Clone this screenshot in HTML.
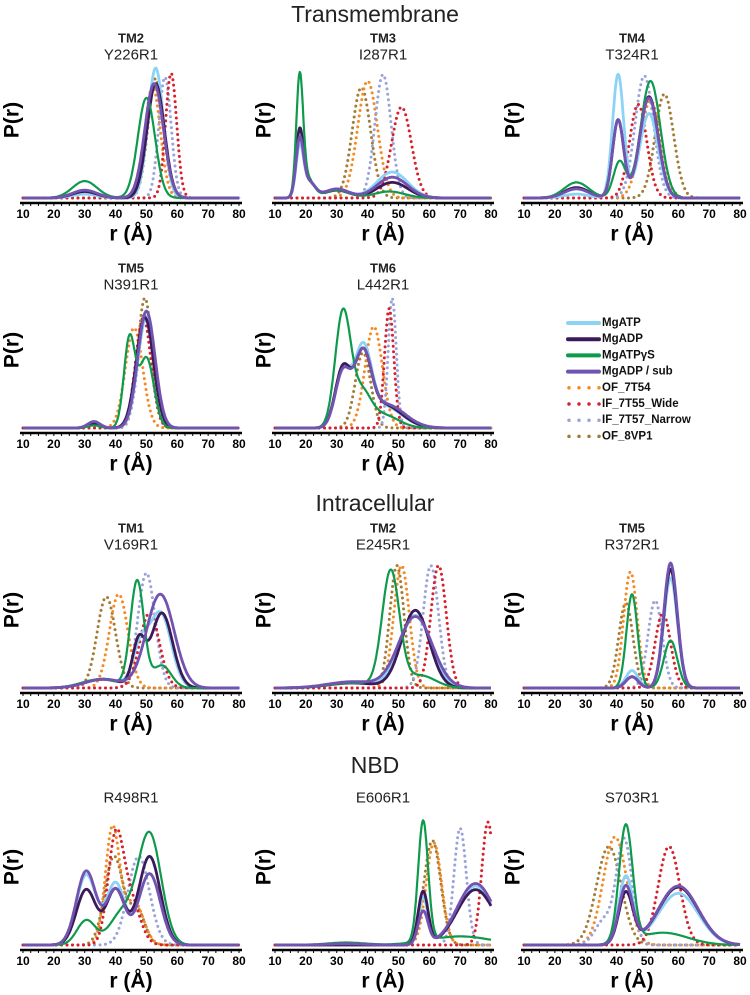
<!DOCTYPE html>
<html><head><meta charset="utf-8">
<style>
html,body{margin:0;padding:0;background:#fff;}
svg{display:block;font-family:"Liberation Sans",Arial,sans-serif;}
</style></head>
<body>
<svg id="fig" width="750" height="995" viewBox="0 0 750 995" xmlns="http://www.w3.org/2000/svg"></svg>
<script>
// ---- data ----
const seriesNames = ["MgATP","MgADP","MgATP\u03b3S","MgADP / sub","OF_7T54","IF_7T55_Wide","IF_7T57_Narrow","OF_8VP1"];
const seriesColors = ["#8dd3f5","#3b1a5a","#0e9a4c","#7254b0","#f58a25","#d9202a","#9aa2da","#a27c34"];
const seriesDotted = [false,false,false,false,true,true,true,true];
const xTicks = [10,20,30,40,50,60,70,80];
const sectionTitles = ["Transmembrane","Intracellular","NBD"];
const panelGroups = ["TM2","TM3","TM4","TM5","TM6","TM1","TM2","TM5","","",""];
const panelLabels = ["Y226R1","I287R1","T324R1","N391R1","L442R1","V169R1","E245R1","R372R1","R498R1","E606R1","S703R1"];
// peak components per series: [center r (Å), width, relative height]
const pY226R1 = [
 [[53,2.5,1.0],[30,4,0.03]],
 [[53,2.8,0.88],[30,4,0.05]],
 [[50,2.8,0.77],[30,4,0.13]],
 [[52.5,3,0.88],[30,4,0.06]],
 [[52,2.5,0.86]],
 [[58,1.8,0.96]],
 [[56,2,0.93]],
 [[53,2.5,0.92]]];
const pI287R1 = [
 [[18,1.2,0.38],[21,2,0.12],[30,4,0.06],[48,5,0.2]],
 [[18,1.2,0.5],[21,2,0.12],[30,4,0.06],[48,5,0.12]],
 [[18,1.1,0.9],[20.5,2,0.15],[30,4,0.06],[47,5,0.05]],
 [[18,1.2,0.43],[21,2,0.12],[30,4,0.07],[48,5,0.16]],
 [[40,3.2,0.9]],
 [[51,3.2,0.7]],
 [[45,2.6,0.95]],
 [[38,3,0.85]]];
const pT324R1 = [
 [[40.5,1.8,0.95],[50.5,3,0.65],[27,4,0.03]],
 [[40.5,1.8,0.6],[50.5,3,0.78],[27,4,0.08]],
 [[41,2,0.28],[51,3.2,0.9],[27,4,0.12]],
 [[40.5,1.8,0.6],[50.5,3,0.77],[27,4,0.07]],
 [[51,3.3,0.75]],
 [[47,2.8,0.72]],
 [[49,3,0.94]],
 [[55.5,3,0.8]]];
const pN391R1 = [
 [[50,2.8,0.85],[33,2,0.03]],
 [[49.5,2.8,0.85],[33,2,0.03]],
 [[44.5,1.8,0.68],[50,2.4,0.54],[33,2,0.02]],
 [[50,2.8,0.9],[33,2,0.05]],
 [[46,2.8,0.77]],
 [[49,2.5,0.85]],
 [[50,2.6,0.88]],
 [[49.5,2.3,1.0]]];
const pL442R1 = [
 [[32,2.5,0.43],[38.5,2.7,0.55],[45,6,0.17]],
 [[32,2.5,0.45],[38.5,2.6,0.5],[45,6,0.18]],
 [[32,2.5,0.88],[38,3,0.25],[45,5,0.1]],
 [[32,2.5,0.42],[38.5,2.7,0.52],[46,6,0.18]],
 [[42,2.8,0.78]],
 [[47,1.5,0.92]],
 [[48,1.3,1.0]],
 [[38.5,2.5,0.58]]];
const pV169R1 = [
 [[48,2.5,0.3],[54.5,3.5,0.6],[36,6,0.07]],
 [[47.5,2,0.35],[55,3.5,0.6],[36,6,0.07]],
 [[47,2.2,0.85],[55,3,0.18],[35,6,0.07]],
 [[54.5,4.5,0.75],[36,6,0.07]],
 [[41,3,0.75]],
 [[51,3.2,0.6]],
 [[50,2.8,0.92]],
 [[37,3,0.73]]];
const pE245R1 = [
 [[55.5,5,0.58],[35,8,0.04]],
 [[55.5,4.5,0.62],[35,8,0.04]],
 [[47.5,2.8,0.92],[57,5,0.1],[35,8,0.04]],
 [[55.5,5.5,0.57],[35,8,0.05]],
 [[51,2.5,0.98]],
 [[63,2.5,0.98]],
 [[60.5,2.5,0.98]],
 [[49.5,2.3,0.98]]];
const pR372R1 = [
 [[45,2,0.14],[57.5,2.2,0.88]],
 [[45,2,0.09],[57.5,2.2,0.95]],
 [[45,1.8,0.75],[57.5,2.2,0.38]],
 [[45,2,0.09],[57.5,2.2,1.0]],
 [[44.5,2.2,0.93]],
 [[55,2.5,0.6]],
 [[52.5,2.3,0.7]],
 [[43,2.3,0.68]]];
const pR498R1 = [
 [[30.5,3.2,0.57],[40,3,0.5],[51,3.5,0.58]],
 [[30.5,3.2,0.45],[40,3,0.45],[51,3.5,0.72]],
 [[30.5,3,0.2],[42,4,0.25],[51,3.8,0.9]],
 [[30.5,3.2,0.6],[40,3,0.45],[51,3.5,0.58]],
 [[39,2.3,0.95],[46,3,0.35]],
 [[40,2.5,0.85],[45,3,0.35]],
 [[47.5,3.5,0.72]],
 [[39.5,3,0.72],[47,2.5,0.28]]];
const pE606R1 = [
 [[58,1.6,0.38],[75,6,0.48]],
 [[58,1.6,0.43],[75,6,0.45]],
 [[58,1.6,0.98],[70,10,0.07],[33,6,0.02]],
 [[58,1.6,0.27],[75,6,0.5],[33,6,0.01]],
 [[61.5,2.5,0.83]],
 [[79,2,1.0]],
 [[70,2,0.95]],
 [[61,2.7,0.85]]];
const pS703R1 = [
 [[43,2.3,0.55],[60,6.5,0.42]],
 [[43,2.3,0.42],[60,6.5,0.47]],
 [[43,2.2,0.95],[55,8,0.1]],
 [[43,2.3,0.47],[60,6.5,0.48]],
 [[39.5,3.8,0.88]],
 [[57,3.5,0.8]],
 [[42.5,2.5,0.85],[36,3,0.2]],
 [[37.5,4,0.8]]];
const panelData = [pY226R1,pI287R1,pT324R1,pN391R1,pL442R1,pV169R1,pE245R1,pR372R1,pR498R1,pE606R1,pS703R1];

// ---- layout ----
const NS="http://www.w3.org/2000/svg";
const svg=document.getElementById('fig');
function mk(tag,attrs,parent){const e=document.createElementNS(NS,tag);for(const k in attrs)e.setAttribute(k,attrs[k]);(parent||svg).appendChild(e);return e;}
const colX=[23,275,524];
const rowAxis=[203,433,693,950];
const rowH=[130,130,125,123];
const rowTitle=[38,268,528,798];
const panelPos=[[0,0],[0,1],[0,2],[1,0],[1,1],[2,0],[2,1],[2,2],[3,0],[3,1],[3,2]];
const W=216;
const sectionY=[14,503,765];
sectionTitles.forEach((t,i)=>{
  const e=mk('text',{x:375,y:sectionY[i],'text-anchor':'middle','dominant-baseline':'central','font-size':23,fill:'#222'});
  e.textContent=t;
  
  
});

panelData.forEach((pd,pi)=>{
  const [row,col]=panelPos[pi];
  const x0=colX[col], axisY=rowAxis[row], base=axisY-5, H=rowH[row];
  const g=mk('g',{});
  
  
  const xs=r=>x0+(r-10)*W/70;
  const ys=v=>base-v*H;
  const cx=x0+W/2;
  if(panelGroups[pi]){
    const t=mk('text',{x:cx,y:rowTitle[pi<8?row:row],'text-anchor':'middle','dominant-baseline':'central','font-size':13,'font-weight':'bold',fill:'#222'},g);
    t.textContent=panelGroups[pi];
    
    
    const s=mk('text',{x:cx,y:rowTitle[row]+17,'text-anchor':'middle','dominant-baseline':'central','font-size':15,fill:'#222'},g);
    s.textContent=panelLabels[pi];
    
    
  } else {
    const s=mk('text',{x:cx,y:rowTitle[row],'text-anchor':'middle','dominant-baseline':'central','font-size':15,fill:'#222'},g);
    s.textContent=panelLabels[pi];
    
    
  }
  // y label
  const yl=mk('text',{x:0,y:0,transform:`translate(${x0-11},${axisY-83}) rotate(-90)`,'text-anchor':'middle','dominant-baseline':'central','font-size':21,'font-weight':'bold',fill:'#000'},g);
  yl.textContent='P(r)';
  
  
  // series: dotted first, then solid
  const order=[7,4,6,5,0,1,2,3];
  order.forEach(si=>{
    const comps=pd[si];
    let d='';
    for(let r=10;r<=80.001;r+=0.25){
      let v=0;comps.forEach(c=>{v+=c[2]*Math.exp(-0.5*Math.pow((r-c[0])/c[1],2));});
      d+=(d?'L':'M')+xs(r).toFixed(1)+','+ys(v).toFixed(1);
    }
    const attrs={d:d,fill:'none',stroke:seriesColors[si],'stroke-linejoin':'round'};
    if(seriesDotted[si]){attrs['stroke-width']=3;attrs['stroke-dasharray']='0 5.5';attrs['stroke-linecap']='round';}
    else{attrs['stroke-width']=si===2?2.2:2.8;}
    const p=mk('path',attrs,g);
    
    
  });
  // axis
  const ax=mk('line',{x1:x0-3,x2:x0+W+3,y1:axisY,y2:axisY,stroke:'#000','stroke-width':2.5},g);
  
  
  for(let r=10;r<=80;r+=2.5){
    const tm=mk('line',{x1:xs(r),x2:xs(r),y1:axisY,y2:axisY+3,stroke:'#000','stroke-width':1},g);
    
    
  }
  xTicks.forEach(t=>{
    const tl=mk('text',{x:xs(t),y:axisY+11,'text-anchor':'middle','dominant-baseline':'central','font-size':12,'font-weight':'bold',fill:'#000'},g);
    tl.textContent=t;
    
    
  });
  const xl=mk('text',{x:cx,y:axisY+31,'text-anchor':'middle','dominant-baseline':'central','font-size':21,'font-weight':'bold',fill:'#000'},g);
  xl.textContent='r (\u00c5)';
  
  
});

// legend
const lg=mk('g',{});


seriesNames.forEach((n,i)=>{
  const y=323+i*16.2;
  const e=mk('g',{},lg);
  
  
  const attrs={x1:568,x2:599,y1:y,y2:y,stroke:seriesColors[i]};
  if(seriesDotted[i]){attrs['stroke-width']=3.5;attrs['stroke-dasharray']='0 10';attrs['stroke-linecap']='round';attrs.x1=569;attrs.x2=600;}
  else{attrs['stroke-width']=4;attrs['stroke-linecap']='round';}
  const l=mk('line',attrs,e);
  
  
  const t=mk('text',{x:602,y:y,'dominant-baseline':'central','font-size':11.5,'font-weight':'bold',fill:'#111'},e);
  t.textContent=n;
  
  
});
</script>
</body></html>
